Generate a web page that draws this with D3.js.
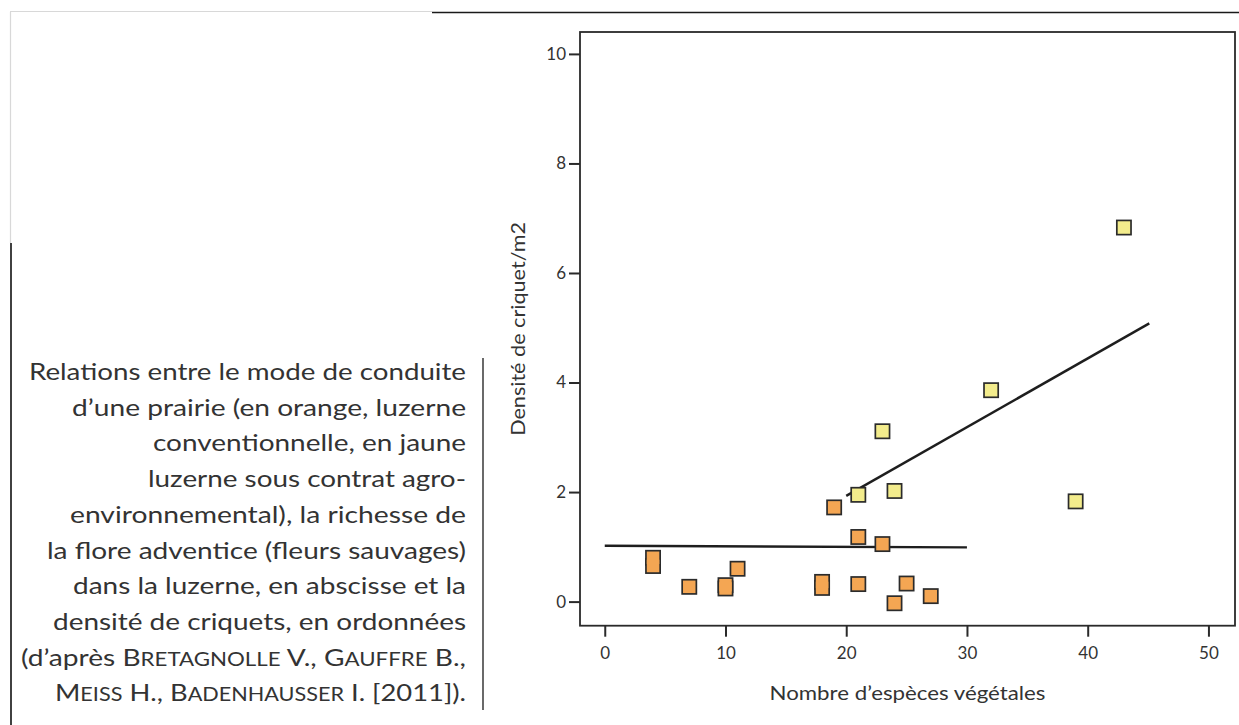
<!DOCTYPE html>
<html><head><meta charset="utf-8">
<script src="https://cdn.jsdelivr.net/npm/d3@7"></script>
<style>
html,body{margin:0;padding:0;background:#fff;}
svg{display:block;}
text{font-family:Lato,"Noto Sans",sans-serif;fill:#333;}
</style></head>
<body>
<svg id="chart" width="1239" height="725"></svg>
<script>
// Conventional alfalfa (orange)
const orangeX = [4, 4, 7, 10, 10, 11, 18, 18, 19, 21, 21, 23, 24, 25, 27];
const orangeY = [0.80, 0.65, 0.27, 0.30, 0.24, 0.60, 0.36, 0.25, 1.72, 1.18, 0.32, 1.05, -0.03, 0.33, 0.10];
// Agri-environmental contract alfalfa (yellow)
const yellowX = [21, 23, 24, 32, 39, 43];
const yellowY = [1.95, 3.11, 2.02, 3.86, 1.83, 6.83];
// Regression lines
const orangeLineX = [0, 30];
const orangeLineY = [1.02, 0.99];
const yellowLineX = [20, 45.1];
const yellowLineY = [1.93, 5.08];
// Ticks
const xTicks = [0, 10, 20, 30, 40, 50];
const yTicks = [0, 2, 4, 6, 8, 10];
const xTitle = "Nombre d\u2019espèces végétales";
const yTitle = "Densité de criquet/m2";
// Caption lines: arrays of [text, smallcaps?]
const captionLines = [
  [["Relations entre le mode de conduite", 0]],
  [["d\u2019une prairie (en orange, luzerne", 0]],
  [["conventionnelle, en jaune", 0]],
  [["luzerne sous contrat agro-", 0]],
  [["environnemental), la richesse de", 0]],
  [["la flore adventice (fleurs sauvages)", 0]],
  [["dans la luzerne, en abscisse et la", 0]],
  [["densité de criquets, en ordonnées", 0]],
  [["(d\u2019après ", 0], ["B", 0], ["RETAGNOLLE", 1], [" V., ", 0], ["G", 0], ["AUFFRE", 1], [" B.,", 0]],
  [["M", 0], ["EISS", 1], [" H., ", 0], ["B", 0], ["ADENHAUSSER", 1], [" I. [2011]).", 0]]
];
const captionLeft = [29, 72, 153, 148, 70, 47, 73, 53, 21, 55];

const svg = d3.select("#chart");

// page decorations (scan edges)
svg.append("line").attr("x1", 10).attr("x2", 432).attr("y1", 11.5).attr("y2", 11.5)
  .attr("stroke", "#d8d8d8").attr("stroke-width", 1.2);
svg.append("line").attr("x1", 432).attr("x2", 1239).attr("y1", 12.5).attr("y2", 12.5)
  .attr("stroke", "#1a1a1a").attr("stroke-width", 1.6);
svg.append("line").attr("x1", 10.5).attr("x2", 10.5).attr("y1", 12).attr("y2", 243)
  .attr("stroke", "#d8d8d8").attr("stroke-width", 1.2);
svg.append("line").attr("x1", 11).attr("x2", 11).attr("y1", 243).attr("y2", 725)
  .attr("stroke", "#111").attr("stroke-width", 1.6);

// scales
const x = d3.scaleLinear().domain([-2.05, 52.2]).range([580, 1235]);
const y = d3.scaleLinear().domain([-0.44, 10.4]).range([625.7, 32]);

// frame
svg.append("rect").attr("x", x.range()[0]).attr("y", y.range()[1])
  .attr("width", x.range()[1] - x.range()[0]).attr("height", y.range()[0] - y.range()[1])
  .attr("fill", "none").attr("stroke", "#2a2a2a").attr("stroke-width", 1.8);

// axes
const gy = svg.append("g").attr("transform", `translate(${x.range()[0]},0)`)
  .call(d3.axisLeft(y).tickValues(yTicks).tickSize(11).tickPadding(3));
const gx = svg.append("g").attr("transform", `translate(0,${y.range()[0]})`)
  .call(d3.axisBottom(x).tickValues(xTicks).tickSize(11).tickPadding(10));
[gx, gy].forEach(g => {
  g.select(".domain").remove();
  g.selectAll(".tick line").attr("stroke", "#2a2a2a").attr("stroke-width", 2);
  g.selectAll(".tick text").attr("font-family", "Lato, sans-serif").attr("font-size", 17).attr("fill", "#333");
});

// axis titles
svg.append("text").attr("x", (x.range()[0] + x.range()[1]) / 2).attr("y", 700)
  .attr("text-anchor", "middle").attr("font-size", 20)
  .attr("textLength", 276).attr("lengthAdjust", "spacingAndGlyphs").text(xTitle);
svg.append("text").attr("transform", `translate(525,${(y.range()[0] + y.range()[1]) / 2}) rotate(-90)`)
  .attr("text-anchor", "middle").attr("font-size", 20)
  .attr("textLength", 214).attr("lengthAdjust", "spacingAndGlyphs").text(yTitle);

// regression lines
const lineGen = d3.line().x(d => x(d[0])).y(d => y(d[1]));
svg.append("path").attr("d", lineGen(orangeLineX.map((v, i) => [v, orangeLineY[i]])))
  .attr("fill", "none").attr("stroke", "#1e1e1e").attr("stroke-width", 2.4);
svg.append("path").attr("d", lineGen(yellowLineX.map((v, i) => [v, yellowLineY[i]])))
  .attr("fill", "none").attr("stroke", "#1e1e1e").attr("stroke-width", 2.4);

// points: outline pass then fill pass so overlapping squares merge
const S = 12.5;
function drawPts(xs, ys, fill) {
  const data = xs.map((v, i) => [v, ys[i]]);
  const g = svg.append("g");
  g.append("g").selectAll("rect").data(data).join("rect")
    .attr("x", d => x(d[0]) - S / 2).attr("y", d => y(d[1]) - S / 2)
    .attr("width", S).attr("height", S)
    .attr("fill", fill).attr("stroke", "#2b2b2b").attr("stroke-width", 3.4);
  g.append("g").selectAll("rect").data(data).join("rect")
    .attr("x", d => x(d[0]) - S / 2).attr("y", d => y(d[1]) - S / 2)
    .attr("width", S).attr("height", S)
    .attr("fill", fill);
}
drawPts(orangeX, orangeY, "#f4a653");
drawPts(yellowX, yellowY, "#f3ec8c");

// caption
const capRight = 466, capTop = 380, capStep = 35.7;
captionLines.forEach((parts, i) => {
  const t = svg.append("text").attr("x", capRight).attr("y", capTop + i * capStep)
    .attr("text-anchor", "end").attr("font-size", 24)
    .attr("textLength", capRight - captionLeft[i]).attr("lengthAdjust", "spacingAndGlyphs");
  parts.forEach(p => t.append("tspan").attr("font-size", p[1] ? 19 : 24).text(p[0]));
});
svg.append("line").attr("x1", 483).attr("x2", 483).attr("y1", 358).attr("y2", 710)
  .attr("stroke", "#444").attr("stroke-width", 1.6);
</script>
</body></html>
